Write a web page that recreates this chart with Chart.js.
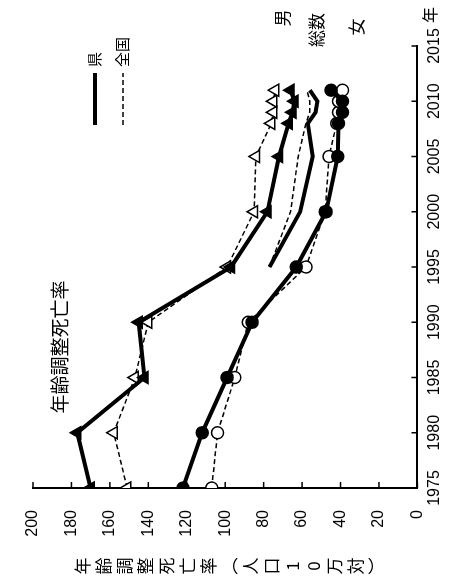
<!DOCTYPE html>
<html><head><meta charset="utf-8">
<script src="https://cdn.jsdelivr.net/npm/chart.js@4"></script>
<style>
html,body{margin:0;padding:0;background:#fff;width:449px;height:583px;overflow:hidden}
#wrap{position:absolute;left:0;top:0;width:583px;height:449px;transform-origin:0 0;transform:translateY(583px) rotate(-90deg);}
canvas{display:block}
</style></head><body>
<div id="wrap"><canvas id="c" width="583" height="449"></canvas></div>
<script>
// ---- data ----
const years = [1975, 1980, 1985, 1990, 1995, 2000, 2005, 2008, 2009, 2010, 2011];
const totalYears = [1995, 2000, 2005, 2008, 2009, 2010, 2011];
const maleKen = [170, 177, 142, 145, 97, 78, 72, 67, 65, 64, 66];
const maleZenkoku = [151, 158, 147, 140, 99, 85, 84, 76, 75, 75, 74];
const femaleKen = [122, 112, 99, 86, 63, 47.5, 41.5, 41, 39, 39, 45];
const femaleZenkoku = [107, 104, 95, 88, 58, 48, 46, 42, 41, 41, 39];
const totalKen = [77, 61, 54.5, 57, 53, 52, 56];
const totalZenkoku = [77, 66, 62, 58, 56, 56, 57.5];
const xTicks = [1975, 1980, 1985, 1990, 1995, 2000, 2005, 2010, 2015];
const yTicks = [0, 20, 40, 60, 80, 100, 120, 140, 160, 180, 200];
const yTitleChars = ['年','齢','調','整','死','亡','率','︵','人','口','1','0','万','対','︶'];

const pts = (xs, ys) => xs.map((x, i) => ({x, y: ys[i]}));
const FONT = "'Liberation Sans', 'Noto Sans CJK JP', sans-serif";
const JFONT = "'Noto Sans CJK JP', sans-serif";

const solid = (data, style, fill) => ({
  data, borderColor: '#000', borderWidth: 4, tension: 0,
  pointStyle: style, pointRadius: style ? (style === 'triangle' ? 7 : 6) : 0,
  pointBackgroundColor: fill, pointBorderColor: '#000', pointBorderWidth: 1.5
});
const dashed = (data, style, fill) => ({
  data, borderColor: '#000', borderWidth: 1.5, borderDash: [5, 3], tension: 0,
  pointStyle: style, pointRadius: style ? (style === 'triangle' ? 7 : 6) : 0,
  pointBackgroundColor: fill, pointBorderColor: '#000', pointBorderWidth: 1.5
});

const annot = {
  id: 'annot',
  afterDraw(chart) {
    const {ctx, scales: {x, y}} = chart;
    ctx.save();
    ctx.strokeStyle = '#000'; ctx.fillStyle = '#000'; ctx.lineWidth = 1.5;
    yTicks.forEach(v => { const py = y.getPixelForValue(v); ctx.beginPath(); ctx.moveTo(x.left, py); ctx.lineTo(x.left + 6, py); ctx.stroke(); });
    xTicks.forEach(v => { const px = x.getPixelForValue(v); ctx.beginPath(); ctx.moveTo(px, y.bottom); ctx.lineTo(px, y.bottom - 6); ctx.stroke(); });
    // y title (vertical)
    ctx.textAlign = 'center'; ctx.textBaseline = 'middle';
    ctx.font = "17px " + JFONT;
    yTitleChars.forEach((c, i) => ctx.fillText(c, 17, 83 + i * 21));
    // x unit
    ctx.font = "16px " + JFONT;
    ctx.fillText('年', 568, 430);
    // chart label
    ctx.font = "19px " + JFONT;
    ctx.fillText('年齢調整死亡率', 236, 60);
    // series labels
    ctx.font = "17px " + JFONT;
    ctx.fillText('男', 565, 283);
    ctx.fillText('総数', 553, 317);
    ctx.fillText('女', 556, 357);
    // legend
    ctx.lineWidth = 4; ctx.setLineDash([]);
    ctx.beginPath(); ctx.moveTo(458, 95); ctx.lineTo(510, 95); ctx.stroke();
    ctx.lineWidth = 1.5; ctx.setLineDash([5, 3]);
    ctx.beginPath(); ctx.moveTo(458, 123); ctx.lineTo(510, 123); ctx.stroke();
    ctx.setLineDash([]);
    ctx.textAlign = 'left'; ctx.font = "15px " + JFONT;
    ctx.fillText('県', 516, 94);
    ctx.fillText('全国', 516, 122);
    ctx.restore();
  }
};

new Chart(document.getElementById('c'), {
  type: 'line',
  data: {
    datasets: [
      solid(pts(years, femaleKen), 'circle', '#000'),
      solid(pts(years, maleKen), 'triangle', '#000'),
      solid(pts(totalYears, totalKen), false, '#000'),
      dashed(pts(years, femaleZenkoku), 'circle', '#fff'),
      dashed(pts(years, maleZenkoku), 'triangle', '#fff'),
      dashed(pts(totalYears, totalZenkoku), false, '#fff')
    ]
  },
  options: {
    responsive: false, animation: false, devicePixelRatio: 1,
    layout: {padding: {left: 0, right: 46, top: 33, bottom: 0}},
    plugins: {legend: {display: false}, tooltip: {enabled: false}},
    scales: {
      x: {
        type: 'linear', min: 1975, max: 2015,
        afterBuildTicks: s => { s.ticks = xTicks.map(v => ({value: v})); },
        afterFit: s => { s.height = 29; },
        grid: {display: false, drawTicks: false},
        border: {display: true, color: '#000', width: 2},
        ticks: {color: '#000', font: {family: FONT, size: 16}, padding: 8, maxRotation: 0,
                callback: v => String(v)}
      },
      y: {
        min: 0, max: 200,
        afterBuildTicks: s => { s.ticks = yTicks.map(v => ({value: v})); },
        afterFit: s => { s.width = 95; },
        grid: {display: false, drawTicks: false},
        border: {display: true, color: '#000', width: 2},
        ticks: {color: '#000', font: {family: FONT, size: 16}, padding: 22,
                callback: v => String(v)}
      }
    }
  },
  plugins: [annot]
});
</script>
</body></html>
